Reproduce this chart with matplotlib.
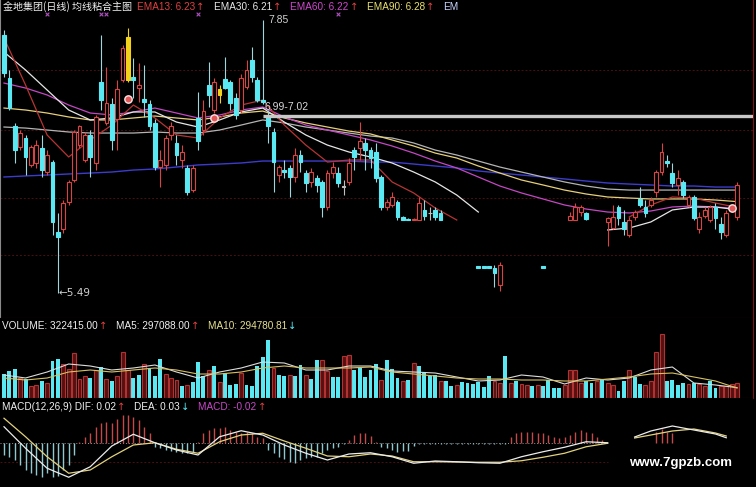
import numpy as np
import matplotlib
matplotlib.use('Agg')
import matplotlib.pyplot as plt

nan = float('nan')

# ---------------- data ----------------
open_ = [7.72, 7.35, 6.93, 6.75, 6.83, 6.60, 6.61, 6.74, 6.54, 6.62,
         6.02, 6.04, 6.28, 6.47, 6.77, 6.64, 6.86, 6.61, 7.31, 6.96,
         7.12, 6.99, 7.33, 7.33, 7.36, 7.26, 7.17, 7.12, 6.96, 6.58,
         6.60, 6.86, 6.79, 6.64, 6.57, 6.38, 7.00, 6.90, 7.29, 7.07,
         7.25, 7.34, 7.31, 7.18, 7.07, 7.27, 7.50, 7.33, 7.16, 7.03,
         6.88, 6.51, 6.55, 6.57, 6.49, 6.68, 6.53, 6.45, 6.48, 6.45,
         6.23, 6.53, 6.53, 6.41, 6.45, 6.73, 6.74, 6.79, 6.73, 6.71,
         6.49, 6.23, 6.25, 6.28, 6.15, 6.13, 6.12, 6.12, 6.21, 6.18,
         6.21, 6.18, nan, nan, nan, nan, nan, nan, 5.72, 5.72,
         5.72, 5.71, 5.56, nan, nan, nan, nan, nan, nan, nan,
         5.72, nan, nan, nan, nan, 6.12, 6.12, 6.19, 6.18, nan,
         nan, nan, 6.10, 6.05, 6.23, 6.10, 5.99, 6.15, 6.30, 6.23,
         6.25, 6.36, 6.54, 6.63, 6.53, 6.42, 6.45, 6.25, 6.32, 6.04,
         6.16, 6.12, 6.23, 6.09, 5.99, 6.21, 6.15]
high = [7.76, 7.42, 6.96, 6.90, 6.86, 6.77, 6.81, 6.86, 6.73, 6.64,
        6.18, 6.29, 6.47, 6.90, 6.94, 6.88, 6.90, 7.03, 7.72, 7.44,
        7.18, 7.33, 7.63, 7.78, 7.52, 7.48, 7.46, 7.16, 6.99, 6.73,
        6.86, 6.97, 6.86, 6.77, 6.60, 6.60, 7.23, 7.16, 7.49, 7.35,
        7.29, 7.53, 7.33, 7.22, 7.38, 7.50, 7.62, 7.36, 7.85, 7.07,
        6.92, 6.60, 6.64, 6.60, 6.74, 6.73, 6.55, 6.57, 6.51, 6.47,
        6.55, 6.62, 6.58, 6.47, 6.66, 6.75, 6.97, 6.83, 6.75, 6.79,
        6.51, 6.30, 6.36, 6.29, 6.16, 6.14, 6.14, 6.32, 6.29, 6.23,
        6.23, 6.21, nan, nan, nan, nan, nan, nan, 5.72, 5.72,
        5.72, 5.73, 5.76, nan, nan, nan, nan, nan, nan, nan,
        5.72, nan, nan, nan, nan, 6.19, 6.27, 6.25, 6.19, nan,
        nan, nan, 6.15, 6.25, 6.25, 6.21, 6.15, 6.21, 6.41, 6.29,
        6.32, 6.55, 6.79, 6.68, 6.61, 6.55, 6.47, 6.34, 6.34, 6.19,
        6.23, 6.25, 6.27, 6.15, 6.21, 6.25, 6.45]
low = [7.36, 7.07, 6.61, 6.73, 6.51, 6.58, 6.57, 6.49, 6.51, 5.99,
       5.49, 6.01, 6.25, 6.45, 6.74, 6.62, 6.49, 6.55, 7.07, 6.94,
       6.73, 6.73, 7.31, 7.31, 7.18, 7.14, 7.01, 6.90, 6.55, 6.41,
       6.55, 6.81, 6.60, 6.57, 6.34, 6.36, 6.73, 6.86, 7.10, 7.05,
       7.13, 7.25, 7.07, 6.99, 7.05, 7.25, 7.31, 7.14, 7.12, 6.79,
       6.36, 6.45, 6.48, 6.32, 6.45, 6.54, 6.36, 6.41, 6.36, 6.15,
       6.21, 6.48, 6.41, 6.34, 6.42, 6.55, 6.64, 6.55, 6.57, 6.45,
       6.21, 6.21, 6.23, 6.12, 6.12, 6.12, 6.12, 6.12, 6.12, 6.12,
       6.12, 6.12, nan, nan, nan, nan, nan, nan, 5.71, 5.71,
       5.71, 5.54, 5.51, nan, nan, nan, nan, nan, nan, nan,
       5.71, nan, nan, nan, nan, 6.12, 6.12, 6.16, 6.12, nan,
       nan, nan, 5.90, 6.04, 6.08, 5.99, 5.97, 6.12, 6.23, 6.15,
       6.23, 6.32, 6.51, 6.58, 6.41, 6.34, 6.31, 6.23, 6.12, 6.01,
       6.14, 6.10, 6.04, 5.96, 5.97, 6.19, 6.12]
close = [7.39, 7.09, 6.73, 6.87, 6.67, 6.75, 6.77, 6.55, 6.68, 6.10,
         5.97, 6.27, 6.45, 6.88, 6.93, 6.86, 6.67, 7.01, 7.16, 7.13,
         6.81, 7.25, 7.61, 7.70, 7.33, 7.29, 7.14, 6.93, 6.58, 6.64,
         6.83, 6.93, 6.68, 6.71, 6.36, 6.57, 6.80, 7.06, 7.20, 7.31,
         7.20, 7.26, 7.13, 7.03, 7.35, 7.42, 7.36, 7.16, 7.14, 6.93,
         6.62, 6.58, 6.54, 6.49, 6.68, 6.62, 6.44, 6.54, 6.42, 6.23,
         6.53, 6.58, 6.44, 6.41, 6.61, 6.67, 6.80, 6.73, 6.66, 6.48,
         6.23, 6.28, 6.32, 6.15, 6.12, 6.12, 6.13, 6.27, 6.16, 6.18,
         6.15, 6.12, nan, nan, nan, nan, nan, nan, 5.71, 5.71,
         5.71, 5.66, 5.73, nan, nan, nan, nan, nan, nan, nan,
         5.71, nan, nan, nan, nan, 6.16, 6.23, 6.23, 6.13, nan,
         nan, nan, 6.14, 6.15, 6.14, 6.04, 6.12, 6.19, 6.25, 6.18,
         6.29, 6.54, 6.71, 6.61, 6.44, 6.48, 6.34, 6.32, 6.14, 6.15,
         6.21, 6.23, 6.14, 6.02, 6.18, 6.23, 6.42]
yellow_idx = [23, 40]

# moving averages, read every 4th session
line_idx = list(range(0, 137, 4))
ema13 = [7.694, 7.288, 6.856, 6.666, 6.813, 6.942, 7.115, 7.003, 6.856, 6.830,
         7.003, 7.115, 7.158, 6.942, 6.769, 6.622, 6.640, 6.640, 6.450, 6.355,
         6.225, 6.121, nan, nan, nan, nan, nan, nan, nan, 6.147,
         6.251, 6.320, 6.311, 6.268, 6.23]
ema30 = [7.573, 7.418, 7.245, 7.072, 6.986, 7.003, 7.055, 7.055, 6.968, 6.925,
         6.986, 7.055, 7.089, 6.968, 6.856, 6.769, 6.709, 6.666, 6.614, 6.536,
         6.450, 6.337, 6.190, nan, nan, nan, nan, nan, 6.035, 6.052,
         6.104, 6.208, 6.233, 6.233, 6.21]
ema60 = [7.305, 7.262, 7.202, 7.115, 7.046, 7.029, 7.055, 7.089, 7.046, 7.003,
         7.029, 7.072, 7.098, 7.012, 6.942, 6.899, 6.856, 6.813, 6.761, 6.700,
         6.631, 6.571, 6.493, 6.415, 6.355, 6.303, 6.251, 6.216, 6.190, 6.182,
         6.199, 6.234, 6.242, 6.234, 6.22]
ema90 = [7.089, 7.072, 7.046, 7.012, 6.986, 6.986, 7.003, 7.020, 7.003, 6.986,
         7.012, 7.046, 7.063, 7.003, 6.960, 6.925, 6.890, 6.865, 6.813, 6.761,
         6.700, 6.657, 6.588, 6.527, 6.467, 6.424, 6.380, 6.346, 6.320, 6.311,
         6.303, 6.303, 6.303, 6.294, 6.28]
ema120 = [6.925, 6.916, 6.899, 6.882, 6.873, 6.873, 6.873, 6.882, 6.873, 6.873,
          6.899, 6.942, 6.986, 6.960, 6.925, 6.899, 6.873, 6.847, 6.830, 6.787,
          6.726, 6.683, 6.631, 6.579, 6.536, 6.493, 6.450, 6.415, 6.389, 6.380,
          6.380, 6.380, 6.380, 6.380, 6.380]
ema250 = [6.493, 6.502, 6.510, 6.519, 6.527, 6.536, 6.553, 6.562, 6.579, 6.597,
          6.605, 6.614, 6.631, 6.631, 6.631, 6.631, 6.631, 6.622, 6.622, 6.605,
          6.588, 6.571, 6.545, 6.527, 6.510, 6.493, 6.476, 6.458, 6.441, 6.432,
          6.424, 6.415, 6.415, 6.406, 6.406]

circle_idx = [23, 39, 135]
circle_price = [7.167, 7.003, 6.225]
xmark_idx = [8, 18, 19, 36, 62]
xmark_price = 7.90
zone_low, zone_high = 6.99, 7.02

vol = [374000, 387000, 401000, 350000, 344500, 304000, 313000, 332000, 322500, 442000,
       456000, 427000, 401000, 487500, 344500, 363000, 348000, 396000, 409000, 344500,
       335000, 359000, 493000, 396000, 350000, 368000, 429000, 405000, 359000, 456000,
       374000, 350000, 341000, 304000, 313000, 328000, 436000, 359000, 396000, 414000,
       326000, 377500, 313000, 317000, 377500, 313000, 304000, 418000, 464000, 557000,
       405000, 368000, 363000, 368000, 359000, 423000, 368000, 344500, 451000, 447000,
       387000, 355500, 355500, 469000, 478000, 396000, 405000, 354000, 396000, 429000,
       341000, 451000, 399500, 350000, 332000, 341000, 432500, 418000, 377500, 363000,
       368000, 335000, 335000, 308000, 313000, 328000, 322500, 319000, 326000, 299000,
       359000, 332000, 322500, 469000, 322500, 335000, 317000, 313000, 304000, 313000,
       304000, 341000, 295000, 295000, 313000, 396000, 392000, 322500, 335000, 322500,
       332000, 346000, 322500, 310000, 280000, 335000, 396000, 355500, 317000, 313000,
       332000, 493000, 594000, 332000, 341000, 310000, 322500, 319000, 322500, 319000,
       308000, 335000, 295000, 308000, 308000, 317000, 322415]
vol_up = [0, 0, 0, 1, 0, 1, 1, 0, 1, 0,
          0, 1, 1, 1, 1, 1, 0, 1, 0, 1,
          0, 1, 1, 1, 0, 0, 1, 0, 0, 0,
          1, 1, 1, 0, 1, 0, 0, 0, 1, 0,
          1, 0, 0, 0, 1, 0, 0, 0, 0, 0,
          1, 0, 0, 1, 0, 0, 1, 0, 0, 1,
          1, 0, 0, 1, 1, 0, 0, 0, 0, 0,
          1, 0, 0, 0, 1, 0, 1, 0, 0, 0,
          0, 1, 0, 0, 1, 0, 0, 0, 0, 0,
          0, 1, 1, 0, 1, 0, 1, 1, 0, 1,
          0, 0, 0, 0, 1, 1, 1, 1, 0, 0,
          1, 0, 1, 1, 0, 0, 1, 0, 0, 1,
          1, 1, 1, 0, 0, 0, 0, 1, 0, 1,
          1, 0, 0, 1, 1, 1, 1]
vol_ma5 = [366500, 350000, 383000, 427000, 416000, 394000, 405000, 421500, 383000, 350000,
           383000, 405000, 438000, 432500, 394000, 394000, 416000, 416000, 388500, 383000,
           377500, 355500, 333500, 339000, 366500, 355500, 317000, 350000, 339000, 350000,
           394000, 410500, 322500, 311500, 297088.00]
vol_ma10 = [350000, 339000, 350000, 383000, 394000, 383000, 394000, 405000, 394000, 372000,
            372000, 383000, 405000, 416000, 405000, 405000, 405000, 410500, 383000, 372000,
            361000, 350000, 344500, 344500, 339000, 339000, 333500, 333500, 344500, 355500,
            372000, 377500, 355500, 333500, 294780.81]

macd_idx = [0, 4, 8, 12, 16, 20, 24, 28, 32, 36, 40, 44, 48, 52, 56, 60, 64, 68,
            72, 76, 80, 84, 88, 92, 96, 100, 104, 108, 112, 114,
            117, 120, 124, 128, 132, 134]
dif = [0.065, -0.021, -0.101, -0.137, -0.095, -0.012, 0.035, 0.001, -0.028, -0.048,
       0.025, 0.049, 0.032, -0.008, -0.041, -0.068, -0.044, -0.039,
       -0.055, -0.081, -0.072, -0.075, -0.079, -0.081, -0.055, -0.035, -0.017, 0.005, 0.001, nan,
       0.024, 0.048, 0.068, 0.052, 0.036, 0.021]
dea = [0.099, 0.025, -0.055, -0.121, -0.108, -0.055, -0.008, 0.001, -0.025, -0.041,
       0.005, 0.032, 0.039, 0.008, -0.021, -0.052, -0.055, -0.044,
       -0.052, -0.075, -0.075, -0.076, -0.077, -0.077, -0.071, -0.057, -0.041, -0.015, -0.001, nan,
       0.020, 0.032, 0.048, 0.056, 0.040, 0.028]
macd_last = -0.02
macd_bar = [-0.048, -0.055, -0.068, -0.088, -0.108, -0.121, -0.128, -0.135, -0.121, -0.135,
            -0.132, -0.108, -0.088, -0.048, 0.004, 0.025, 0.039, 0.065, 0.079, 0.085,
            0.079, 0.095, 0.112, 0.112, 0.105, 0.092, 0.065, 0.039, -0.015, -0.021,
            -0.028, -0.031, -0.035, -0.039, -0.041, -0.035, 0.003, 0.039, 0.052, 0.059,
            0.059, 0.065, 0.052, 0.045, 0.039, 0.045, 0.039, 0.025, 0.019, -0.028,
            -0.041, -0.055, -0.065, -0.075, -0.081, -0.068, -0.061, -0.055, -0.055, -0.041,
            -0.028, -0.021, -0.015, -0.004, 0.012, 0.032, 0.041, 0.041, 0.028, 0.004,
            -0.015, -0.021, -0.028, -0.035, -0.031, -0.031, -0.011, -0.002, -0.002, -0.002,
            -0.002, -0.002, -0.002, -0.002, -0.002, -0.002, -0.002, -0.002, -0.002, -0.002,
            -0.002, -0.002, -0.002, -0.002, 0.023, 0.039, 0.043, 0.045, 0.045, 0.041,
            0.039, 0.032, 0.025, 0.019, 0.025, 0.032, 0.045, 0.052, 0.045, 0.039,
            0.023, 0.012, nan, nan, nan, nan, nan, nan, nan, nan,
            nan, 0.045, 0.055, 0.045, 0.039, nan, nan, nan, nan, nan,
            nan, nan, nan, nan, nan, nan, nan]

# ---------------- style ----------------
RED = '#d84444'
CYAN = '#5ae8f2'
CYAN_WICK = '#9fd6dc'
YELLOW = '#f2d21a'
W, H = 756, 487

plt.rcParams['font.family'] = ['Liberation Sans', 'Noto Sans CJK SC', 'DejaVu Sans']

fig = plt.figure(figsize=(W / 100, H / 100), dpi=100, facecolor='black')
def fx(px):
    return px / W
def fy(py):
    return 1 - py / H

ax_p = fig.add_axes([0, fy(318), 753 / W, 318 / H])
ax_v = fig.add_axes([0, fy(398), 753 / W, 80 / H])
ax_m = fig.add_axes([0, 0, 753 / W, 89 / H])
for ax in (ax_p, ax_v, ax_m):
    ax.set_facecolor('black')
    ax.set_xlim(-0.742, 138.96)
    ax.set_xticks([])
    ax.set_yticks([])
    for s in ax.spines.values():
        s.set_visible(False)

ax_p.set_ylim(5.274, 8.023)
ax_v.set_ylim(240000, 680000)
ax_m.set_ylim(-0.176, 0.180)

for ax in (ax_p, ax_v):
    ax.spines['right'].set_visible(True)
    ax.spines['right'].set_color('#7a1616')
    ax.spines['bottom'].set_visible(True)
    ax.spines['bottom'].set_color('#6a1414')
ax_p.spines['left'].set_visible(True)
ax_p.spines['left'].set_color('#8a8a8a')

# price grid
for g in [7.42, 6.90, 6.31, 5.82]:
    ax_p.axhline(g, color='#4a1010', lw=0.7, ls=(0, (2, 2)), zorder=0)

o = np.array(open_, float); h = np.array(high, float)
l = np.array(low, float); c = np.array(close, float)
N = len(o)

# moving average lines
li = np.array(line_idx)
ax_p.plot(li, ema250, color='#3c3ccc', lw=1.0, zorder=2)
ax_p.plot(li, ema120, color='#b4b4b4', lw=0.9, zorder=2)
ax_p.plot(li, ema90, color='#e6cf78', lw=0.9, zorder=2)
ax_p.plot(li, ema60, color='#c447c4', lw=0.9, zorder=2)
ax_p.plot(li, ema30, color='#e6e6e6', lw=0.9, zorder=2)
ax_p.plot(li, ema13, color='#b83434', lw=0.9, zorder=2)

# candles
for i in range(N):
    if np.isnan(o[i]):
        continue
    if i in yellow_idx:
        face, edge, wick = YELLOW, YELLOW, YELLOW
    elif c[i] > o[i]:
        face, edge, wick = 'black', RED, RED
    elif c[i] < o[i]:
        face, edge, wick = CYAN, CYAN, CYAN_WICK
    else:
        face, edge, wick = '#c0c0c0', '#c0c0c0', '#c0c0c0'
    ax_p.vlines(i, l[i], h[i], color=wick, lw=0.8, zorder=3)
    bot = min(o[i], c[i])
    hgt = max(abs(c[i] - o[i]), 0.006)
    ax_p.bar(i, hgt, bottom=bot, width=0.70, color=face, edgecolor=edge,
             lw=0.8, zorder=4)

# zone line and labels
ax_p.hlines(zone_high, 48, 139, color='#c8c8c8', lw=2.4, zorder=5)
ax_p.text(48.3, 7.10, f'{zone_low:.2f}-{zone_high:.2f}', color='#d8d8d8',
          fontsize=7.5, va='center', ha='left', zorder=6)
imax = int(np.nanargmax(h)); imin = int(np.nanargmin(l))
ax_p.text(imax + 1.0, h[imax], f'{h[imax]:.2f}', color='#d0d0d0', fontsize=7.5,
          va='center', ha='left')
ax_p.text(imin + 0.2, l[imin], f'\u2190{l[imin]:.2f}', color='#d0d0d0', fontsize=7.5,
          va='center', ha='left', family=['DejaVu Sans'])
ax_p.scatter(circle_idx, circle_price, s=28, facecolor='#e05858',
             edgecolors='#ffe4e4', linewidths=1.0, zorder=7)
ax_p.scatter(xmark_idx, [xmark_price] * len(xmark_idx), s=7, marker='x',
             color='#b050c0', linewidths=0.8, zorder=7)

# volume
xv = np.arange(N)
vu = np.array(vol_up, bool)
va_ = np.array(vol, float)
ax_v.bar(xv[~vu], va_[~vu], width=0.72, color=CYAN, zorder=2)
ax_v.bar(xv[vu], va_[vu], width=0.72, color='#561010', edgecolor='#b03232',
         lw=0.8, zorder=2)
ax_v.plot(li, vol_ma5, color='#dcdcdc', lw=0.8, zorder=3)
ax_v.plot(li, vol_ma10, color='#d8c060', lw=0.8, zorder=3)

# MACD
mb = np.array(macd_bar, float)
for i in range(N):
    if np.isnan(mb[i]):
        continue
    ax_m.vlines(i, 0, mb[i], color='#c24a4a' if mb[i] > 0 else '#8fc8d0', lw=1.0, zorder=2)
ax_m.hlines(0, -0.7, 112, colors='#9a9a9a', linestyles=(0, (1, 2)), lw=0.7, zorder=1)
ax_m.hlines(-0.076, -0.7, 112, colors='#4a1010', linestyles=(0, (2, 2)), lw=0.7, zorder=1)
ax_m.plot(macd_idx, dea, color='#e2d27e', lw=0.9, zorder=3)
ax_m.plot(macd_idx, dif, color='#ececec', lw=0.9, zorder=3)

# ---------------- header texts ----------------
fig.canvas.draw()
renderer = fig.canvas.get_renderer()

def header(ypx, groups, size=7.2, gap=8):
    end = 0
    for xpx, parts in groups:
        x = max(xpx, end + gap) if end else xpx
        for txt, col in parts:
            fam = ['DejaVu Sans'] if txt in ('\u2191', '\u2193') else None
            t = fig.text(fx(x), fy(ypx), txt, color=col, fontsize=size, va='center',
                         ha='left', family=fam)
            bb = t.get_window_extent(renderer=renderer)
            x = x + bb.width + 1
        end = x

fig.text(fx(3), fy(7), '金地集团(日线) 均线粘合主图', color='#f0f0f0', fontsize=7.2,
         va='center', ha='left', family=['Noto Sans CJK SC', 'DejaVu Sans'])
header(7, [
    (137, [(f'EMA13: {ema13[-1]:.2f}', '#e04040'), ('\u2191', '#e04040')]),
    (205, [(f'EMA30: {ema30[-1]:.2f}', '#e8e8e8'), ('\u2191', '#e04040')]),
    (273, [(f'EMA60: {ema60[-1]:.2f}', '#d048d0'), ('\u2191', '#e04040')]),
    (343, [(f'EMA90: {ema90[-1]:.2f}', '#e8e070'), ('\u2191', '#e04040')]),
    (413, [('EM', '#c8d4ff')]),
])
header(326, [
    (2, [(f'VOLUME: {vol[-1]:.2f}', '#f0f0f0'), ('\u2191', '#e04040')]),
    (110, [(f'MA5: {vol_ma5[-1]:.2f}', '#f0f0f0'), ('\u2191', '#e04040')]),
    (197, [(f'MA10: {vol_ma10[-1]:.2f}', '#e6e090'), ('\u2193', CYAN)]),
])
header(407, [
    (2, [(f'MACD(12,26,9) DIF: {dif[-1]:.2f}', '#f0f0f0'), ('\u2191', '#e04040')]),
    (128, [(f'DEA: {dea[-1]:.2f}', '#f0f0f0'), ('\u2193', CYAN)]),
    (187, [(f'MACD: {macd_last:.2f}', '#c848c8'), ('\u2191', '#e04040')]),
])

fig.text(fx(681), fy(463), 'www.7gpzb.com', color='white', fontsize=9.5,
         fontweight='bold', ha='center', va='center')

fig.savefig('out.png', dpi=100, facecolor='black')
